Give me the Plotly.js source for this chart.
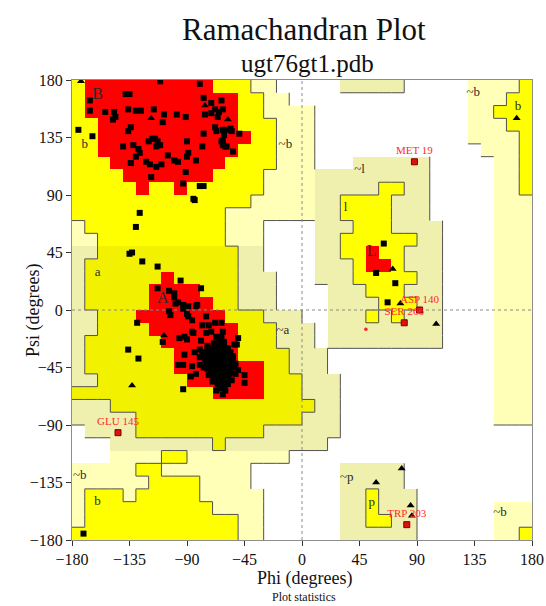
<!DOCTYPE html>
<html><head><meta charset="utf-8">
<script src="https://cdn.plot.ly/plotly-3.0.1.min.js"></script>
<style>html,body{margin:0;padding:0;background:#fff;}#chart{width:546px;height:606px;}</style>
</head><body><div id="chart"></div>
<script>
// Region map, 10-degree cells; rows psi 180 -> -180, columns phi -180 -> 180 (run-length coded)
// . white, g generous (light), k generous (khaki), Y allowed, y allowed (shaded band), R core
const regionRows = [
"Y R10 Y3 g2 .5 k5 .5 g4 Y",
"Y R12 Y2 g2 .14 g3 Y2",
"Y R12 Y2 g4 .12 g2 Y3",
"Y2 R11 Y3 g3 .12 g3 Y2",
"Y2 R12 Y2 g3 .12 g4 Y",
"Y2 R11 Y3 g3 .13 g3 Y",
"Y3 R9 Y4 g3 .3 k6 .5 g2 Y",
"Y4 R7 Y4 g4 k9 .5 g2 Y",
"Y5 R Y2 R Y6 g4 k5 Y2 k2 .5 g2 Y",
"Y14 g5 k2 Y4 k3 .5 g3",
"Y12 g7 k2 Y4 k3 .5 g3",
"g Y11 g3 .4 k3 Y3 k4 .4 g3",
"g2 Y10 g3 .4 k2 Y6 k2 .4 g3",
"k2 y11 k2 .4 k2 Y2 R Y2 k3 .4 g3",
"k y12 k2 .4 k3 Y R2 Y k3 .4 g3",
"k y6 R y5 k3 .3 k3 Y5 k2 .4 g3",
"k y5 R4 y3 k3 .4 k3 Y3 k3 .4 g3",
"k y5 R5 y2 k3 .4 k4 Y3 k2 .4 g3",
"k2 y3 R7 y3 k3 .2 k3 Y k Y k3 .4 g3",
"k2 y4 R7 y3 k3 . k9 .4 g3",
"k y6 R6 y3 k3 . k9 .4 g3",
"k y7 R5 y4 k3 .13 g3",
"k y7 R7 y2 k3 .13 g3",
"k2 y7 R6 y3 k3 .12 g3",
"y11 R4 y3 k3 .12 g3",
"k3 y16 k2 .12 g3",
"k5 y13 k3 .12 g3",
". k4 y10 k6 .15",
".3 k8 y k8 .16",
".3 g4 Y2 g8 .19",
"g5 Y2 g7 .7 k5 .10",
"g6 Y4 g4 .7 k5 .10",
"g Y3 g Y5 g5 .6 k2 Y k3 .9",
"g Y10 g4 .6 k2 Y k3 .6 g3",
"g Y12 g2 .6 k2 Y2 k2 .6 g3",
"Y13 g2 .6 k6 .6 g2 Y"
];
const regionClasses = ['.','g','k','Y','y','R'];
const regionColors = ['#FFFFFF','#FFFFB8','#F0F0AE','#FFFF00','#F2F200','#FF0000'];

// Non-glycine residues (phi, psi)
const residuePhi = [-111,-80,-166,-138,-135,-77,-71,-63,-166,-154,-147,-136,-130,-126,-116,-108,-98,-91,-148,-146,-109,-76,-71,-68,-65,-66,-134,-136,-68,-67,-62,-61,-63,-62,-59,-77,-175,-164,-120,-117,-115,-113,-111,-114,-140,-132,-128,-127,-130,-134,-105,-100,-97,-122,-119,-114,-110,-90,-89,-90,-83,-78,-91,-118,-93,-80,-77,-85,-84,
-62,-56,-59,-55,-62,-54,-49,-60,
-127,-130,-135,-133,-125,-113,
-95,-79,-113,-104,-100,-100,-97,-93,-89,-83,-104,-103,-99,-93,-82,-90,-89,-86,-75,-68,-63,-78,-73,-75,-71,-67,-64,-86,-85,-92,-90,-96,-76,-80,-86,-50,-45,-63,-129,-136,-128,-93,-109,-53,-51,-45,-63,-84,-80,-92,-97,-87,-93,-80,-83,-63,-61,-79,-74,-62,
-70,-68,-66,-64,-62,-65,-67,-63,-61,-69,-71,-72,-68,-66,-64,-60,-58,-59,-57,-62,-60,-65,-67,-63,-58,-56,-55,-54,-56,-60,-64,-67,-70,-73,-75,-74,-71,-69,-66,-61,-59,-57,-53,-52,-62,-66,-68,-63,-58,-72,-76,-77,-73,-70,-64,-60,-55,-52,-56,-61,-65,-69,-74,-78,-67,-62,-58,-54,-50,-60,-64,-68,-71,-57,-63,-59,-65,-61,-66,-62,
64,58,73,67,-171];
const residuePsi = [179,177,164,169,169,166,162,164,156,155,155,157,156,156,157,153,153,151,149,151,147,153,154,157,155,151,143,140,143,140,141,137,132,129,128,138,141,136,132,134,134,132,129,128,128,129,126,123,120,115,121,117,116,116,114,112,114,132,123,120,117,128,108,104,99,97,97,87,86,
157,142,141,140,133,124,138,128,
76,65,44,45,38,34,
23,17,17,15,13,10,6,4,3,3,-1,-4,5,1,4,-3,-5,-8,-5,-10,-10,-12,-12,-18,-17,-21,-24,-17,-18,-21,-23,-22,-33,-37,-44,-22,-51,-54,-10,-31,-38,-62,-25,-27,-27,-57,-59,-33,-31,-35,-43,-52,-43,-43,-50,-21,-29,-24,-28,-17,
-35,-38,-40,-42,-41,-45,-43,-38,-36,-41,-40,-44,-47,-49,-47,-44,-42,-39,-46,-50,-48,-52,-55,-56,-52,-49,-44,-40,-37,-33,-32,-30,-30,-37,-41,-46,-49,-52,-58,-60,-55,-38,-45,-50,-45,-36,-33,-28,-30,-33,-38,-45,-51,-56,-61,-63,-55,-42,-33,-25,-26,-26,-30,-35,-63,-66,-58,-36,-47,-40,-36,-44,-46,-50,-46,-47,-39,-52,-44,-38,
52,29,21,6,-175];
// Glycine residues
const glyPhi = [-173,-76,-118,-58,-108,-133,71,77,105,78,58,85,86,168];
const glyPsi = [179,160,150,149,-20,-59,32,5,-11,-124,-135,-153,-161,150];
// Labelled outliers
const outlierName = ['MET 19','ASP 140','SER 266','GLU 145','TRP 203'];
const outlierPhi = [88,92,80,-144,82];
const outlierPsi = [116,0,-10,-96,-168];
const extraPhi = [50];
const extraPsi = [-15];
// Region labels
const regionLabel = ['B','b','a','A','~b','~l','l','L','~b','b','~a','~p','p','~b','b','~b'];
const regionLabelPhi = [-160,-170,-160,-109,-13,45,34,54.5,134,169,-15,35,54.5,-174,-160,155];
const regionLabelPsi = [168,129,29,9,129,110,80,45.6,170,159,-16,-131,-151,-130,-150,-159];
const tickVals = [-180,-135,-90,-45,0,45,90,135,180];

// ---- build region grid ----
const grid = regionRows.map(r => r.split(' ').map(t => t[0].repeat(t.length > 1 ? +t.slice(1) : 1)).join(''));
grid.forEach((r,i)=>{ if (r.length!==36) console.warn('row',i,r.length); });
const cellPhi = [], cellPsi = [];
for (let k=0;k<36;k++) cellPhi.push(-175+10*k);
for (let j=0;j<36;j++) cellPsi.push(175-10*j);
const z = grid.map(r => r.split('').map(c => regionClasses.indexOf(c)));
const n = regionColors.length;
const cs = [];
regionColors.forEach((c,i)=>{ cs.push([i/n,c]); cs.push([(i+1)/n,c]); });

// boundary lines
const lvl = {'.':0,g:1,k:1,Y:2,y:2,R:3};
const ex=[], ey=[];
for (let j=0;j<36;j++) for (let k=0;k<36;k++) {
  const c = grid[j][k];
  if (c==='.'||c==='R') continue;
  if (k<35) { const nb = grid[j][k+1]; if (nb!=='R' && lvl[nb]!==lvl[c]) { const x=-180+10*(k+1); ex.push(x,x,null); ey.push(180-10*j,170-10*j,null);} }
  if (j<35) { const nb = grid[j+1][k]; if (nb!=='R' && lvl[nb]!==lvl[c]) { const y=170-10*j; ex.push(-180+10*k,-170+10*k,null); ey.push(y,y,null);} }
}

const serif = 'Liberation Serif, Times New Roman, serif';
const traces = [
  {type:'heatmap', x:cellPhi, y:cellPsi, z:z, zmin:-0.5, zmax:n-0.5, colorscale:cs, showscale:false, hoverinfo:'skip', zsmooth:false},
  {type:'scatter', mode:'lines', x:ex, y:ey, line:{color:'#505050', width:1}, hoverinfo:'skip', connectgaps:false},
  {type:'scatter', mode:'lines', x:[0,0], y:[-180,180], line:{color:'#8a8a8a', width:1, dash:'dot'}, hoverinfo:'skip'},
  {type:'scatter', mode:'lines', x:[-180,180], y:[0,0], line:{color:'#8a8a8a', width:1, dash:'dot'}, hoverinfo:'skip'},
  {type:'scatter', mode:'text', x:regionLabelPhi, y:regionLabelPsi, text:regionLabel, cliponaxis:false,
   textfont:{family:serif, size:regionLabel.map(s=>/^[A-Z]$/.test(s)?16:13), color:'#2a2a2a'}, hoverinfo:'skip'},
  {type:'scatter', mode:'markers', x:residuePhi, y:residuePsi, marker:{symbol:'square', size:6, color:'#000'}},
  {type:'scatter', mode:'markers', x:glyPhi, y:glyPsi, marker:{symbol:'triangle-up', size:7, color:'#000'}},
  {type:'scatter', mode:'markers', x:extraPhi, y:extraPsi, marker:{symbol:'circle', size:3.5, color:'#ff2020'}},
  {type:'scatter', mode:'markers+text', x:outlierPhi, y:outlierPsi, text:outlierName, textposition:'top center', cliponaxis:false,
   textfont:{family:serif, size:11, color:'#ff2a2a'}, marker:{symbol:'square', size:6, color:'#e01010', line:{color:'#7a0000', width:1}}}
];
const axisCommon = {range:[-180,180], tickvals:tickVals, ticks:'outside', ticklen:5, tickcolor:'#333', tickwidth:1,
  showline:true, mirror:true, linecolor:'#8c8c8c', linewidth:1, showgrid:false, zeroline:false,
  tickfont:{family:serif, size:16, color:'#111'}, fixedrange:true};
const ann = (text, xpx, ypx, size, extra) => Object.assign({text:text, xref:'paper', yref:'paper',
  x:(xpx-72)/460, y:(540-ypx)/460, xanchor:'center', yanchor:'middle', showarrow:false,
  font:{family:serif, size:size, color:'#111'}}, extra||{});
const layout = {
  width:546, height:606, margin:{l:72, r:14, t:80, b:66},
  paper_bgcolor:'#fff', plot_bgcolor:'#fff', showlegend:false,
  xaxis:Object.assign({}, axisCommon),
  yaxis:Object.assign({}, axisCommon),
  annotations:[
    ann('Ramachandran Plot', 304, 30, 31),
    ann('ugt76gt1.pdb', 307, 63, 25),
    ann('Phi (degrees)', 304, 578, 18),
    ann('Psi (degrees)', 33, 311, 18, {textangle:-90}),
    ann('Plot statistics', 304, 597, 12)
  ]
};
Plotly.newPlot('chart', traces, layout, {staticPlot:true, displayModeBar:false});
</script></body></html>
